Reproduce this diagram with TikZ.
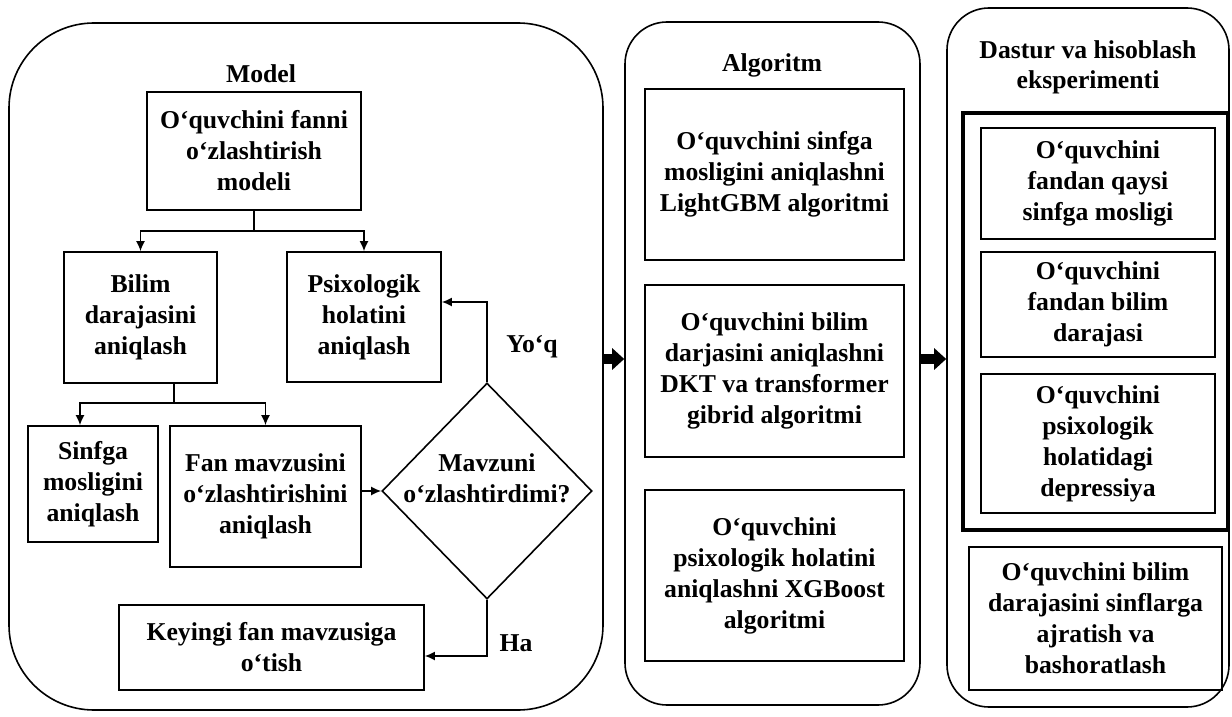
\documentclass[tikz,border=0pt]{standalone}
\usepackage{fontspec}
\setmainfont{Liberation Serif}
\usetikzlibrary{shapes.geometric,arrows.meta,calc}
\begin{document}
\begin{tikzpicture}[x=1pt,y=-1pt,
  txt/.style={font=\bfseries\fontsize{25.7pt}{31pt}\selectfont, align=center},
  box/.style={draw, line width=1.6pt, txt, inner sep=0pt},
  panel/.style={draw, line width=1.6pt, rounded corners=#1, inner sep=0pt},
  arr/.style={line width=1.6pt, -{Latex[length=10pt,width=9pt]}},
  bigarr/.style={line width=10pt, -{Triangle[length=12pt,width=21pt]}},
]
\useasboundingbox (0,0) rectangle (1232,717);
\fill[white] (0,0) rectangle (1232,717);

% panels
\node[panel=85pt, minimum width=594pt, minimum height=687pt] (P1) at (306,366.5) {};
\node[panel=42pt, minimum width=295pt, minimum height=683pt] (P2) at (772.5,363.5) {};
\node[panel=42pt, minimum width=282pt, minimum height=699pt] (P3) at (1088,357.5) {};

% titles
\node[txt] (tModel) at (261,74) {Model};
\node[txt] (tAlg) at (772,65) {Algoritm};
\node[txt, font=\bfseries\fontsize{25.7pt}{30pt}\selectfont] (tDastur) at (1088,67.5) {Dastur va hisoblash\\eksperimenti};

% left panel boxes
\node[box, minimum width=214pt, minimum height=118pt] (T) at (254,151) {O‘quvchini fanni\\o‘zlashtirish\\modeli};
\node[box, minimum width=153pt, minimum height=131pt] (B) at (140.5,317.5) {Bilim\\darajasini\\aniqlash};
\node[box, minimum width=154pt, minimum height=130pt] (Ps) at (364,317) {Psixologik\\holatini\\aniqlash};
\node[box, minimum width=130pt, minimum height=116pt] (S) at (93,484) {Sinfga\\mosligini\\aniqlash};
\node[box, minimum width=191pt, minimum height=141pt] (F) at (265.5,496.5) {Fan mavzusini\\o‘zlashtirishini\\aniqlash};
\node[draw, diamond, line width=1.6pt, minimum width=210pt, minimum height=216pt, inner sep=0pt] (D) at (487,491) {};
\node[txt] (Dt) at (487,478) {Mavzuni\\o‘zlashtirdimi?};
\node[box, minimum width=305pt, minimum height=85pt] (K) at (271.5,647.5) {Keyingi fan mavzusiga\\o‘tish};
\node[txt] (lYoq) at (532,347) {Yo‘q};
\node[txt] (lHa) at (516,643) {Ha};

% left connectors
\draw[arr] (T.south) -- ++(0,20) -| (B.north);
\draw[arr] (T.south) -- ++(0,20) -| (Ps.north);
\coordinate (j2) at (174,403);
\draw[arr] (B.south -| j2) -- (j2) -| ([xshift=-13pt]S.north);
\draw[arr] (j2) -| (F.north);
\draw[arr] (F.east |- D.west) -- (D.west);
\draw[arr] (D.north) |- ([yshift=15pt]Ps.east);
\draw[arr] (D.south) |- ([yshift=-8.5pt]K.east);

% algorithm panel boxes
\node[box, minimum width=259pt, minimum height=171pt] (A1) at (774.5,174.5) {O‘quvchini sinfga\\mosligini aniqlashni\\LightGBM algoritmi};
\node[box, minimum width=259pt, minimum height=172pt] (A2) at (774.5,371) {O‘quvchini bilim\\darjasini aniqlashni\\DKT va transformer\\gibrid algoritmi};
\node[box, minimum width=259pt, minimum height=171pt] (A3) at (774.5,575.5) {O‘quvchini\\psixologik holatini\\aniqlashni XGBoost\\algoritmi};

% right panel
\node[draw, line width=4pt, minimum width=265pt, minimum height=417pt, inner sep=0pt] (TB) at (1095.5,321.5) {};
\node[box, minimum width=234pt, minimum height=111pt] (R1) at (1098,183.5) {O‘quvchini\\fandan qaysi\\sinfga mosligi};
\node[box, minimum width=234pt, minimum height=105pt] (R2) at (1098,304.5) {O‘quvchini\\fandan bilim\\darajasi};
\node[box, minimum width=234pt, minimum height=139pt] (R3) at (1098,443.5) {O‘quvchini\\psixologik\\holatidagi\\depressiya};
\node[box, minimum width=253pt, minimum height=143pt] (R4) at (1095.5,618.5) {O‘quvchini bilim\\darajasini sinflarga\\ajratish va\\bashoratlash};

% big arrows between panels
\coordinate (ya) at (0,359);
\draw[bigarr] (P1.east |- ya) -- (P2.west |- ya);
\draw[bigarr] (P2.east |- ya) -- (P3.west |- ya);
\end{tikzpicture}
\end{document}
